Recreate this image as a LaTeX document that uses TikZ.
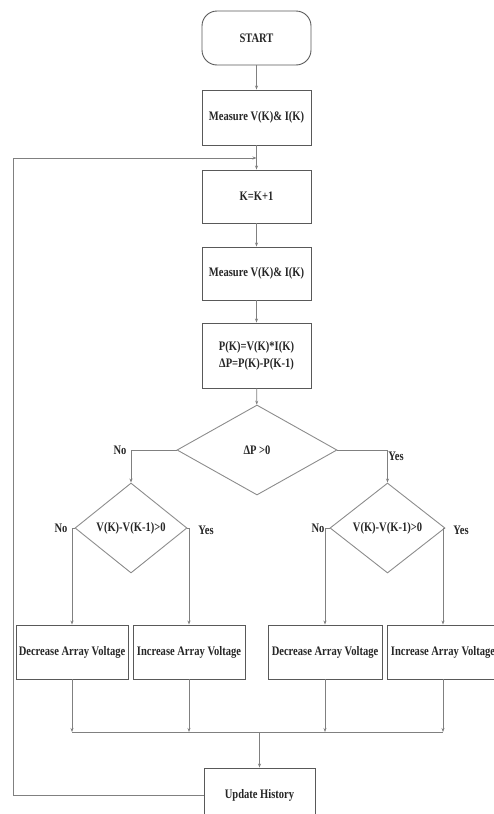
\documentclass[tikz,border=0pt]{standalone}
\usepackage{fontspec}
\setmainfont{Liberation Serif}[FakeStretch=0.81]
\usetikzlibrary{shapes.geometric,arrows.meta}
\begin{document}
\begin{tikzpicture}[x=1pt,y=-1pt,
  every node/.style={font=\fontsize{13}{15}\selectfont\bfseries, text=black!85},
  box/.style={draw=black!65, line width=0.9pt, rectangle, inner sep=0pt},
  dia/.style={draw=black!45, line width=0.9pt, diamond, inner sep=0pt},
  lbl/.style={inner sep=0pt},
  arr/.style={draw=black!50, line width=0.8pt, -{Stealth[length=4pt,width=3pt]}},
  ln/.style={draw=black!50, line width=0.8pt}]
\useasboundingbox (0,0) rectangle (493,814);
\node[box, rounded corners=15pt, minimum width=109pt, minimum height=54pt] (start) at (256.5,38) {START};
\node[box, minimum width=109pt, minimum height=55pt] (m1) at (256.5,117.5) {Measure V(K)\& I(K)};
\node[box, minimum width=109pt, minimum height=53pt] (k) at (256.5,196.5) {K=K+1};
\node[box, minimum width=109pt, minimum height=53pt] (m2) at (256.5,273.5) {Measure V(K)\& I(K)};
\node[box, minimum width=109pt, minimum height=65pt, align=center] (p) at (256.5,355.5) {P(K)=V(K)*I(K)\\[2pt]ΔP=P(K)-P(K-1)};
\node[dia, minimum width=160pt, minimum height=90pt] (d0) at (257,450) {ΔP >0};
\node[dia, minimum width=112pt, minimum height=90pt] (d1) at (131,528) {V(K)-V(K-1)>0};
\node[dia, minimum width=115pt, minimum height=90pt] (d2) at (387.5,528) {V(K)-V(K-1)>0};
\node[box, minimum width=112pt, minimum height=54pt] (b1) at (72,652) {Decrease Array Voltage};
\node[box, minimum width=112pt, minimum height=54pt] (b2) at (189,652) {Increase Array Voltage};
\node[box, minimum width=114pt, minimum height=54pt] (b3) at (325,652) {Decrease Array Voltage};
\node[box, minimum width=112pt, minimum height=54pt] (b4) at (443,652) {Increase Array Voltage};
\node[box, minimum width=111pt, minimum height=54pt] (upd) at (259.5,795) {Update History};
\node[lbl] (n0) at (120,450) {No};
\node[lbl] (y0) at (396,456) {Yes};
\node[lbl] (n1) at (61,528) {No};
\node[lbl] (y1) at (206,530) {Yes};
\node[lbl] (n2) at (318,528) {No};
\node[lbl] (y2) at (461,530) {Yes};
\coordinate (j) at (259.5,732);
\coordinate (l) at (256.5,158);
\coordinate (lc) at (13,158);
\draw[arr] (start) -- (m1);
\draw[arr] (m1) -- (k);
\draw[arr] (k) -- (m2);
\draw[arr] (m2) -- (p);
\draw[arr] (p) -- (d0);
\draw[arr] (d0.west) -| (d1.north);
\draw[arr] (d0.east) -| (d2.north);
\draw[arr] (d1.west) -| (b1.north);
\draw[arr] (d1.east) -| (b2.north);
\draw[arr] (d2.west) -| (b3.north);
\draw[arr] (d2.east) -| (b4.north);
\draw[arr] (b1.south) -- (b1.south |- j);
\draw[arr] (b2.south) -- (b2.south |- j);
\draw[arr] (b3.south) -- (b3.south |- j);
\draw[arr] (b4.south) -- (b4.south |- j);
\draw[ln] (b1.south |- j) -- (b4.south |- j);
\draw[arr] (j) -- (upd.north);
\draw[arr] (upd.west) -| (lc) -- (l);
\end{tikzpicture}
\end{document}
